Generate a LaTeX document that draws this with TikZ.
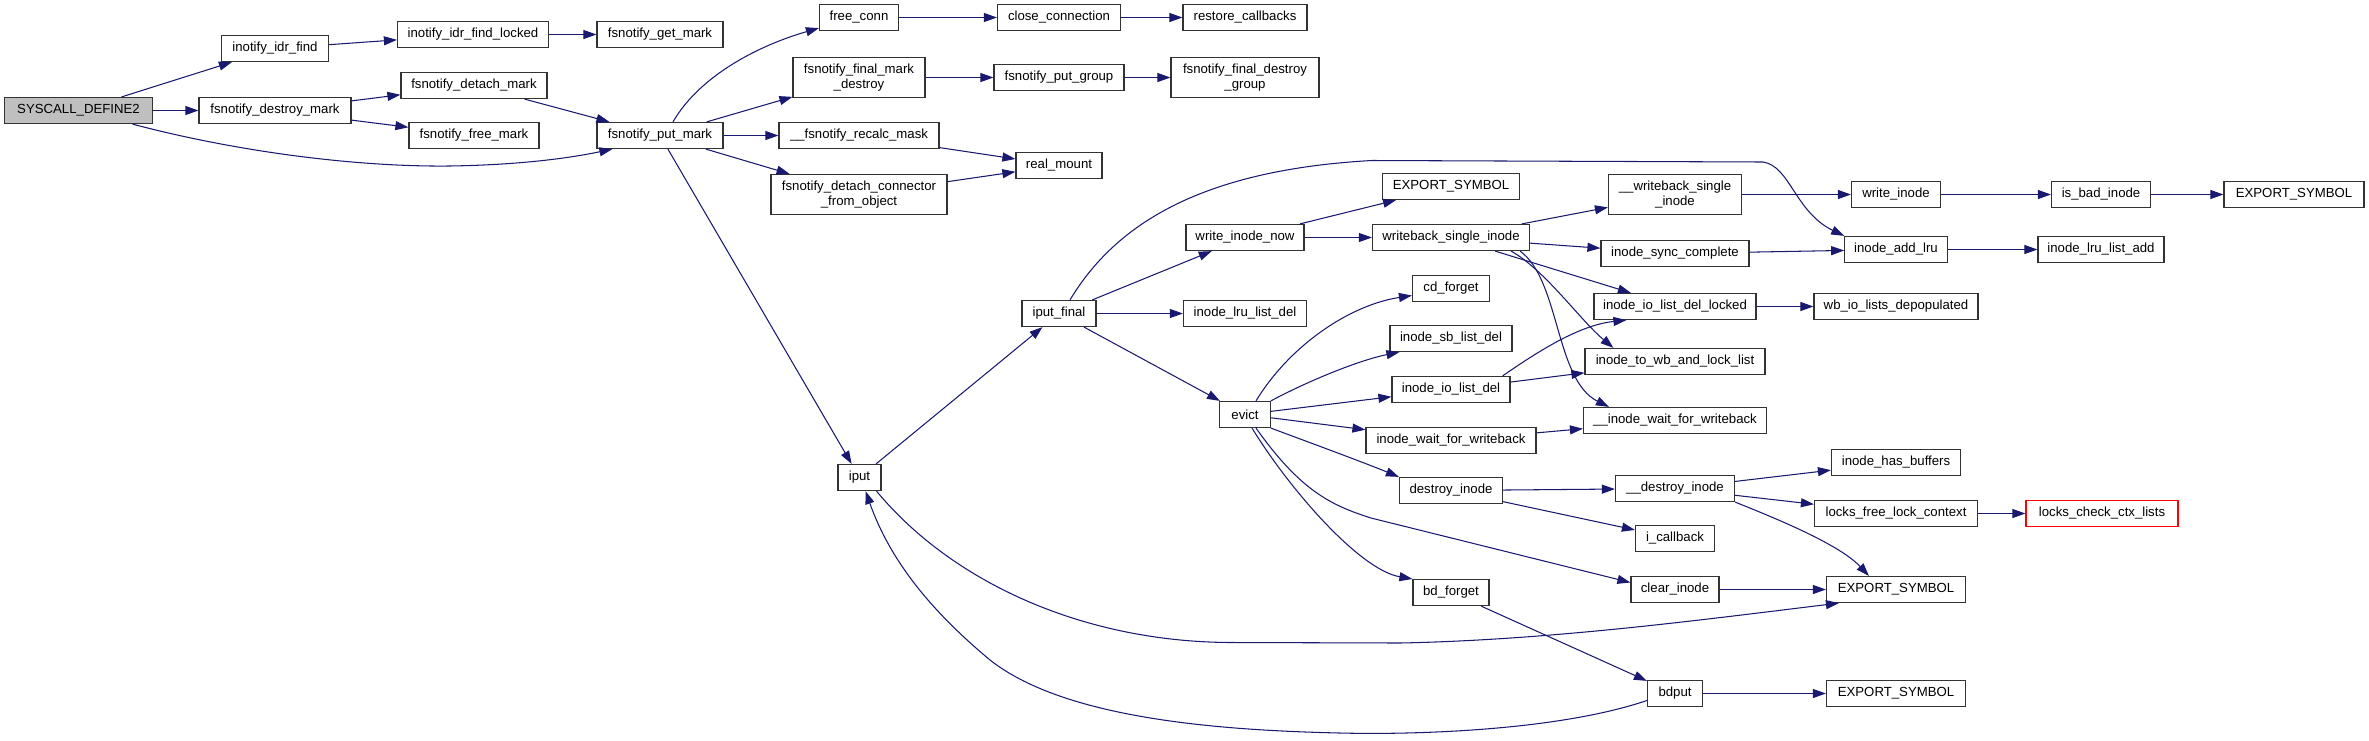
\documentclass[tikz,border=0pt]{standalone}
\usepackage{fontspec}
\setmainfont{Liberation Sans}
\usetikzlibrary{arrows.meta}
\definecolor{edgec}{HTML}{191970}
\definecolor{boxc}{HTML}{333333}
\begin{document}
\begin{tikzpicture}[x=1pt,y=-1pt,
 box/.style={draw=boxc, line width=1.2pt, fill=white, inner xsep=3pt, inner ysep=5pt,
   minimum height=26pt, font=\fontsize{13.2}{15}\selectfont, align=center},
 box2/.style={box, minimum height=40pt},
 conn/.style={draw=edgec, line width=1.05pt, -{Triangle[length=13pt,width=9pt]}}]
\useasboundingbox (0,0) rectangle (2369,740);

% nodes
\node[box, fill=black!25, minimum width=148] (sd) at (78.5,110.5) {SYSCALL\_DEFINE2};
\node[box, minimum width=107] (iif) at (275,48.5) {inotify\_idr\_find};
\node[box, minimum width=151] (iifl) at (473,34.5) {inotify\_idr\_find\_locked};
\node[box, minimum width=126] (fgm) at (660,34.5) {fsnotify\_get\_mark};
\node[box, minimum width=146] (fdm) at (474,85.5) {fsnotify\_detach\_mark};
\node[box, minimum width=152] (fdsm) at (275,110.5) {fsnotify\_destroy\_mark};
\node[box, minimum width=130] (ffm) at (474,135.5) {fsnotify\_free\_mark};
\node[box, minimum width=126] (fpm) at (660,135.5) {fsnotify\_put\_mark};
\node[box, minimum width=79] (fc) at (859,17.5) {free\_conn};
\node[box, minimum width=123] (cc) at (1059,17.5) {close\_connection};
\node[box, minimum width=124] (rc) at (1245,17.5) {restore\_callbacks};
\node[box2, minimum width=132] (ffmd) at (859,77.5) {fsnotify\_final\_mark\\\_destroy};
\node[box, minimum width=130] (fpg) at (1059,77.5) {fsnotify\_put\_group};
\node[box2, minimum width=148] (ffdg) at (1245,77.5) {fsnotify\_final\_destroy\\\_group};
\node[box, minimum width=160] (frm) at (859,135.5) {\_\_fsnotify\_recalc\_mask};
\node[box, minimum width=86] (rm) at (1059,165.5) {real\_mount};
\node[box2, minimum width=176] (fdco) at (859,194.5) {fsnotify\_detach\_connector\\\_from\_object};
\node[box, minimum width=43] (iput) at (859.5,477.5) {iput};
\node[box, minimum width=74] (ipf) at (1059,313.5) {iput\_final};
\node[box, minimum width=118] (win) at (1245,237.5) {write\_inode\_now};
\node[box, minimum width=123] (illd) at (1245,313.5) {inode\_lru\_list\_del};
\node[box, minimum width=50.5] (ev) at (1245,414.5) {evict};
\node[box, minimum width=137.5] (es1) at (1451,186.5) {EXPORT\_SYMBOL};
\node[box, minimum width=157] (wsi) at (1451,237.5) {writeback\_single\_inode};
\node[box, minimum width=77] (cdf) at (1451,288.5) {cd\_forget};
\node[box, minimum width=122] (isld) at (1451,338.5) {inode\_sb\_list\_del};
\node[box, minimum width=118] (iild) at (1451,389.5) {inode\_io\_list\_del};
\node[box, minimum width=170] (iwfw) at (1451,440.5) {inode\_wait\_for\_writeback};
\node[box, minimum width=103] (di) at (1451,490.5) {destroy\_inode};
\node[box, minimum width=76] (bdf) at (1451,592.5) {bd\_forget};
\node[box2, minimum width=133] (uwsi) at (1675,194.5) {\_\_writeback\_single\\\_inode};
\node[box, minimum width=148] (isc) at (1675,253.5) {inode\_sync\_complete};
\node[box, minimum width=162] (iildl) at (1675,306.5) {inode\_io\_list\_del\_locked};
\node[box, minimum width=180] (itwb) at (1675,361.5) {inode\_to\_wb\_and\_lock\_list};
\node[box, minimum width=183] (uiwfw) at (1675,420.5) {\_\_inode\_wait\_for\_writeback};
\node[box, minimum width=119] (udi) at (1675,488.5) {\_\_destroy\_inode};
\node[box, minimum width=79] (icb) at (1675,538.5) {i\_callback};
\node[box, minimum width=88] (ci) at (1675,589.5) {clear\_inode};
\node[box, minimum width=55] (bdput) at (1675,693.5) {bdput};
\node[box, minimum width=89] (wi) at (1896,194.5) {write\_inode};
\node[box, minimum width=102.5] (ial) at (1896,249.5) {inode\_add\_lru};
\node[box, minimum width=164] (wbld) at (1896,306.5) {wb\_io\_lists\_depopulated};
\node[box, minimum width=129] (ihb) at (1896,462.5) {inode\_has\_buffers};
\node[box, minimum width=163] (lflc) at (1896,513.5) {locks\_free\_lock\_context};
\node[box, minimum width=139] (es3) at (1896,589.5) {EXPORT\_SYMBOL};
\node[box, minimum width=139] (es4) at (1896,693.5) {EXPORT\_SYMBOL};
\node[box, minimum width=99] (ibi) at (2101,194.5) {is\_bad\_inode};
\node[box, minimum width=126] (illa) at (2101,249.5) {inode\_lru\_list\_add};
\node[box, draw=red, minimum width=152] (lccl) at (2102,513.5) {locks\_check\_ctx\_lists};
\node[box, minimum width=140] (es2) at (2294,194.5) {EXPORT\_SYMBOL};

% straight connectors
\draw[conn] (sd) -- (iif);
\draw[conn] (sd) -- (fdsm);
\draw[conn] (iif) -- (iifl);
\draw[conn] (iifl) -- (fgm);
\draw[conn] (fdsm) -- (fdm);
\draw[conn] (fdsm) -- (ffm);
\draw[conn] (fdm) -- (fpm);
\draw[conn] (fpm) -- (ffmd);
\draw[conn] (fpm) -- (frm);
\draw[conn] (fpm) -- (fdco);
\draw[conn] (fpm) -- (iput);
\draw[conn] (fc) -- (cc);
\draw[conn] (cc) -- (rc);
\draw[conn] (ffmd) -- (fpg);
\draw[conn] (fpg) -- (ffdg);
\draw[conn] (frm) -- (rm);
\draw[conn] (fdco) -- (rm);
\draw[conn] (iput) -- (ipf);
\draw[conn] (ipf) -- (win);
\draw[conn] (ipf) -- (illd);
\draw[conn] (ipf) -- (ev);
\draw[conn] (win) -- (es1);
\draw[conn] (win) -- (wsi);
\draw[conn] (wsi) -- (uwsi);
\draw[conn] (wsi) -- (isc);
\draw[conn] (wsi) -- (iildl);
\draw[conn] (uwsi) -- (wi);
\draw[conn] (wi) -- (ibi);
\draw[conn] (ibi) -- (es2);
\draw[conn] (isc) -- (ial);
\draw[conn] (ial) -- (illa);
\draw[conn] (iildl) -- (wbld);
\draw[conn] (ev) -- (iild);
\draw[conn] (ev) -- (iwfw);
\draw[conn] (iild) -- (itwb);
\draw[conn] (iwfw) -- (uiwfw);
\draw[conn] (di) -- (udi);
\draw[conn] (di) -- (icb);
\draw[conn] (udi) -- (ihb);
\draw[conn] (udi) -- (lflc);
\draw[conn] (lflc) -- (lccl);
\draw[conn] (ci) -- (es3);
\draw[conn] (bdf) -- (bdput);
\draw[conn] (bdput) -- (es4);

% curved connectors
\draw[conn] ([xshift=54pt]sd.south) .. controls (230,150) and (350,167) .. (449,166)
  .. controls (520,165) and (570,158) .. ([xshift=16pt]fpm.south west);
\draw[conn] ([xshift=13pt]fpm.north) .. controls (700,75) and (760,45) .. ([yshift=3pt]fc.south west);
\draw[conn] ([xshift=11pt]ipf.north) .. controls (1115,225) and (1200,170) .. (1372,160.5)
  -- (1763,162) .. controls (1790,166) and (1795,212) .. (ial.north west);
\draw[conn] ([xshift=11pt]ev.north) .. controls (1290,345) and (1350,305) .. ([yshift=-7pt]cdf.west);
\draw[conn] (ev.north east) .. controls (1310,380) and (1360,360) .. ([xshift=10pt]isld.south west);
\draw[conn] (ev.south east) .. controls (1330,450) and (1370,465) .. (di.north west);
\draw[conn] ([xshift=11pt]ev.south) .. controls (1300,490) and (1330,505) .. (1371,518)
  -- ([yshift=7pt]ci.west);
\draw[conn] ([xshift=7pt]ev.south) .. controls (1290,490) and (1360,570) .. (bdf.north west);
\draw[conn] ([xshift=-8pt]iild.north east) .. controls (1540,350) and (1580,325) .. ([xshift=33pt]iildl.south west);
\draw[conn] ([xshift=-19pt]wsi.south east) .. controls (1545,270) and (1580,320) .. ([xshift=29pt]itwb.north west);
\draw[conn] ([xshift=-10pt]wsi.south east) .. controls (1560,280) and (1555,380) .. ([xshift=26pt]uiwfw.north west);
\draw[conn] (udi.south east) .. controls (1780,520) and (1840,545) .. ([xshift=43pt]es3.north west);
\draw[conn] ([xshift=17pt]iput.south) .. controls (950,580) and (1080,642) .. (1231,642.5)
  -- (1400,643) .. controls (1550,640) and (1700,620) .. ([xshift=13pt]es3.south west);
\draw[conn] ([yshift=-7pt]bdput.west) .. controls (1560,730) and (1420,735) .. (1340,733)
  .. controls (1200,730) and (1060,715) .. (990,660)
  .. controls (930,610) and (890,560) .. ([xshift=6pt]iput.south);
\end{tikzpicture}
\end{document}
